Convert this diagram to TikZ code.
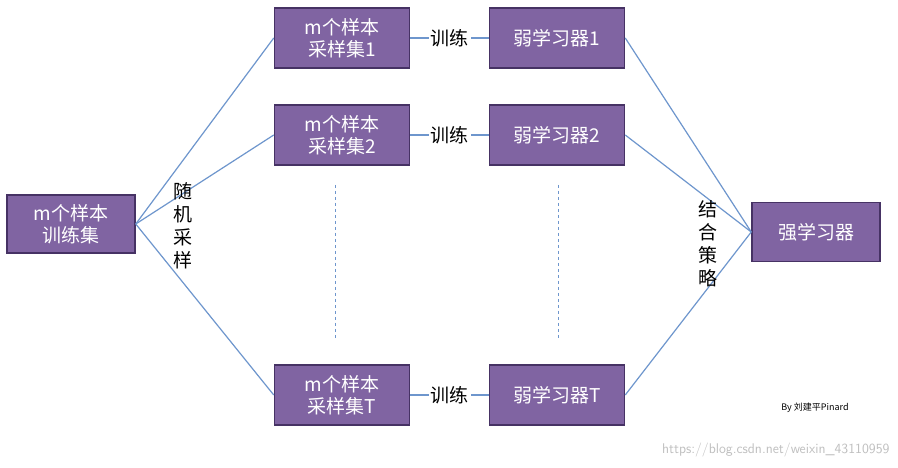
\documentclass[tikz,border=0pt]{standalone}
\usepackage{fontspec}
\newfontfamily\cjk{Noto Sans CJK SC}
\usetikzlibrary{positioning}
\definecolor{boxFill}{RGB}{128,100,162}
\definecolor{boxDraw}{RGB}{70,50,100}
\definecolor{lineColor}{RGB}{110,150,205}
\tikzset{
  box/.style={draw=boxDraw,line width=1.5pt,fill=boxFill,text=white,minimum width=135pt,minimum height=60pt,align=center,font=\cjk\fontsize{19}{22}\selectfont,inner sep=1pt},
  link/.style={draw=lineColor,line width=1.2pt},
  tag/.style={fill=white,inner sep=2pt,font=\cjk\fontsize{19}{22}\selectfont}
}
\begin{document}
\begin{tikzpicture}[x=1pt,y=1pt]
\path[use as bounding box,fill=white] (0,0) rectangle (898,468);

\node[box,minimum width=128pt,minimum height=58pt] (train) at (71,244) {m个样本\\训练集};
\node[box] (s1) at (342,430) {m个样本\\采样集1};
\node[box] (s2) at (342,333) {m个样本\\采样集2};
\node[box] (sT) at (342,73) {m个样本\\采样集T};
\node[box] (w1) at (557,430) {弱学习器1};
\node[box] (w2) at (557,333) {弱学习器2};
\node[box] (wT) at (557,73) {弱学习器T};
\node[box,minimum width=128pt,minimum height=59pt] (strong) at (816,236) {强学习器};

% random sampling
\foreach \s in {s1,s2,sT}
  \draw[link] (train.east) -- (\s.west);
\foreach \s/\w in {s1/w1,s2/w2,sT/wT}
  \draw[link] (\s) -- node[tag] {训练} (\w);
\foreach \w in {w1,w2,wT}
  \draw[link] (\w.east) -- (strong.west);

\node[font=\cjk\fontsize{19}{23}\selectfont,align=center] (rand) at (183,242) {随\\机\\采\\样};
\node[font=\cjk\fontsize{19}{23}\selectfont,align=center] (comb) at (708,224) {结\\合\\策\\略};

\draw[lineColor,dashed,line width=1pt] (335,283) -- (335,128);
\draw[lineColor,dashed,line width=1pt] (558,283) -- (558,128);

\node[font=\cjk\fontsize{9}{11}\selectfont] (sign) at (815,60) {By 刘建平Pinard};
\node[font=\fontsize{14}{16}\selectfont\sffamily,text=black!25,anchor=east] (mark) at (893,18) {https://blog.csdn.net/weixin\_43110959};
\end{tikzpicture}
\end{document}
